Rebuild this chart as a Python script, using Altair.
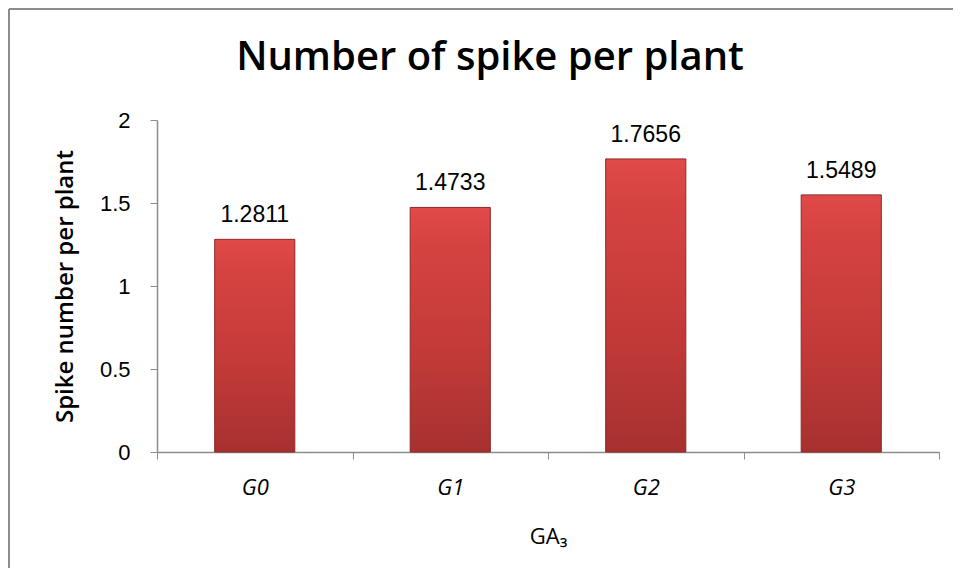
import altair as alt
import pandas as pd

categories = ["G0", "G1", "G2", "G3"]
values = [1.2811, 1.4733, 1.7656, 1.5489]
labels = ["1.2811", "1.4733", "1.7656", "1.5489"]
y_ticks = [0, 0.5, 1, 1.5, 2]
title_text = "Number of spike per plant"

df = pd.DataFrame({"cat": categories, "val": values, "lab": labels})
one = pd.DataFrame({"t": [title_text]})

x_enc = alt.X(
    "cat:N",
    sort=categories,
    scale=alt.Scale(paddingInner=0, paddingOuter=0),
    axis=alt.Axis(
        title="GA₃",
        labelAngle=0,
        tickBand="extent",
        labelFont="Open Sans",
        labelFontStyle="italic",
        labelFontSize=22,
        labelColor="#000000",
        labelPadding=18,
        titleFont="Open Sans",
        titleFontSize=22,
        titleFontWeight="normal",
        titleColor="#000000",
        titlePadding=28,
        domainColor="#8c8c8c",
        tickColor="#8c8c8c",
        tickSize=7,
        domainWidth=1.5,
    ),
)
y_enc = alt.Y(
    "val:Q",
    scale=alt.Scale(domain=[0, 2], nice=False),
    axis=alt.Axis(
        title="Spike number per plant",
        values=y_ticks,
        format="~g",
        grid=False,
        labelFont="Liberation Sans",
        labelFontSize=22,
        labelColor="#000000",
        labelPadding=20,
        titleFont="Open Sans",
        titleFontSize=24,
        titleFontWeight=600,
        titleColor="#000000",
        titlePadding=22,
        domainColor="#8c8c8c",
        tickColor="#8c8c8c",
        tickSize=7,
        domainWidth=1.5,
    ),
)

bars = alt.Chart(df).mark_bar(
    width=alt.RelativeBandSize(0.41),
    stroke="#8e2a29",
    strokeWidth=1,
    color=alt.Gradient(
        gradient="linear",
        x1=0, x2=0, y1=0, y2=1,
        stops=[
            alt.GradientStop(color="#e04a48", offset=0),
            alt.GradientStop(color="#d54341", offset=0.15),
            alt.GradientStop(color="#c23a38", offset=0.6),
            alt.GradientStop(color="#a63130", offset=1),
        ],
    ),
).encode(x=x_enc, y=y_enc)

text = alt.Chart(df).mark_text(
    baseline="bottom",
    dy=-12,
    font="Liberation Sans",
    fontSize=23,
    color="#000000",
).encode(x=alt.X("cat:N", sort=categories), y="val:Q", text="lab:N")

title = alt.Chart(one).mark_text(
    baseline="alphabetic",
    align="center",
    font="Open Sans",
    fontSize=40,
    fontWeight=600,
    color="#000000",
).encode(x=alt.value(333), y=alt.value(-50), text="t:N")

left_border = alt.Chart(one).mark_rule(stroke="#8c8c8c", strokeWidth=2).encode(
    x=alt.value(-148), y=alt.value(-111), y2=alt.value(600)
)
top_border = alt.Chart(one).mark_rule(stroke="#8c8c8c", strokeWidth=2).encode(
    x=alt.value(-148), x2=alt.value(900), y=alt.value(-111)
)

chart = alt.layer(left_border, top_border, bars, text, title).properties(
    width=782,
    height=332,
    autosize=alt.AutoSizeParams(type="none"),
    padding={"left": 149, "top": 112, "right": 14, "bottom": 116},
).configure(
    background="#ffffff",
    view=alt.ViewConfig(stroke="transparent", strokeWidth=0),
)

chart.save("out.html", embed_options={"renderer": "svg", "actions": False})
